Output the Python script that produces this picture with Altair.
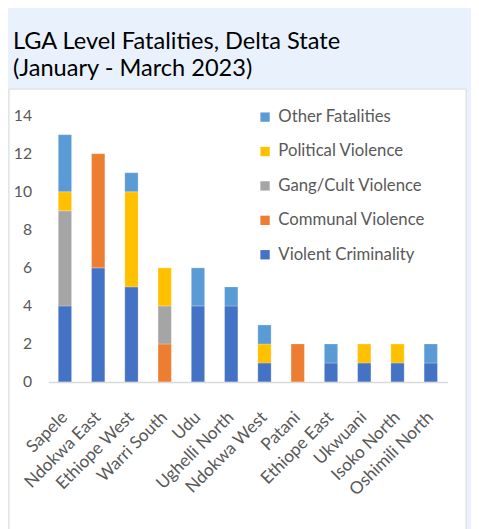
import altair as alt
import pandas as pd

lgas = ["Sapele", "Ndokwa East", "Ethiope West", "Warri South", "Udu", "Ughelli North",
        "Ndokwa West", "Patani", "Ethiope East", "Ukwuani", "Isoko North", "Oshimili North"]
violent_criminality = [4, 6, 5, 0, 4, 4, 1, 0, 1, 1, 1, 1]
communal_violence = [0, 6, 0, 2, 0, 0, 0, 2, 0, 0, 0, 0]
gang_cult_violence = [5, 0, 0, 2, 0, 0, 0, 0, 0, 0, 0, 0]
political_violence = [1, 0, 5, 2, 0, 0, 1, 0, 0, 1, 1, 0]
other_fatalities = [3, 0, 1, 0, 2, 1, 1, 0, 1, 0, 0, 1]

series_names = ["Violent Criminality", "Communal Violence", "Gang/Cult Violence",
                "Political Violence", "Other Fatalities"]
series_values = [violent_criminality, communal_violence, gang_cult_violence,
                 political_violence, other_fatalities]
series_colors = ["#4472C4", "#ED7D31", "#A5A5A5", "#FFC000", "#5B9BD5"]

rows = []
for rank, (name, vals) in enumerate(zip(series_names, series_values)):
    for lga, v in zip(lgas, vals):
        if v > 0:
            rows.append({"LGA": lga, "Type": name, "Fatalities": v, "rank": rank})
df = pd.DataFrame(rows)

legend_order = list(reversed(series_names))
legend_colors = list(reversed(series_colors))

FONT = "Lato"
GRAY = "#595959"

one = pd.DataFrame({"a": [0]})

panel = alt.Chart(one).mark_rect(fill="#FFFFFF", stroke="#D9D9D9", strokeWidth=1).encode(
    x=alt.value(-40), x2=alt.value(425), y=alt.value(-27), y2=alt.value(440)
)

title1 = alt.Chart(one).mark_text(align="left", baseline="alphabetic", fontSize=24,
                                  font=FONT, color="#000000").encode(
    x=alt.value(-36), y=alt.value(-68), text=alt.value("LGA Level Fatalities, Delta State")
)
title2 = alt.Chart(one).mark_text(align="left", baseline="alphabetic", fontSize=24,
                                  font=FONT, color="#000000").encode(
    x=alt.value(-36), y=alt.value(-40), text=alt.value("(January - March 2023)")
)

bars = alt.Chart(df).mark_bar(stroke="#FFFFFF", strokeWidth=0.4, strokeOpacity=0.6).encode(
    x=alt.X("LGA:N", sort=lgas,
            scale=alt.Scale(paddingInner=0.6, paddingOuter=0.3),
            axis=alt.Axis(title=None, labelAngle=-45, labelAlign="right", labelBaseline="middle",
                          labelFontSize=17.5, labelFont=FONT, labelColor=GRAY, ticks=False,
                          domainColor="#D9D9D9", domainWidth=1.5, labelPadding=33,
                          zindex=1)),
    y=alt.Y("Fatalities:Q", stack="zero",
            scale=alt.Scale(domain=[0, 14]),
            axis=alt.Axis(title=None, values=list(range(0, 15, 2)), grid=False, domain=False,
                          ticks=False, labelFontSize=16, labelFont=FONT, labelColor=GRAY,
                          labelPadding=17, zindex=1)),
    color=alt.Color("Type:N",
                    scale=alt.Scale(domain=legend_order, range=legend_colors),
                    legend=alt.Legend(title=None, orient="none", legendX=212, legendY=-7,
                                      symbolType="square", symbolSize=90,
                                      symbolStrokeWidth=0, labelFontSize=17, labelFont=FONT,
                                      labelColor=GRAY, rowPadding=17, labelOffset=5,
                                      zindex=1)),
    order=alt.Order("rank:Q", sort="ascending"),
)

chart = alt.layer(panel, title1, title2, bars).properties(
    width=406, height=271,
    autosize=alt.AutoSizeParams(type="none"),
    padding={"left": 41, "right": 24, "top": 105, "bottom": 145},
    background="#E9F2FC",
).configure_view(stroke=None)

chart.save("out.html", embed_options={"renderer": "svg", "actions": False})
